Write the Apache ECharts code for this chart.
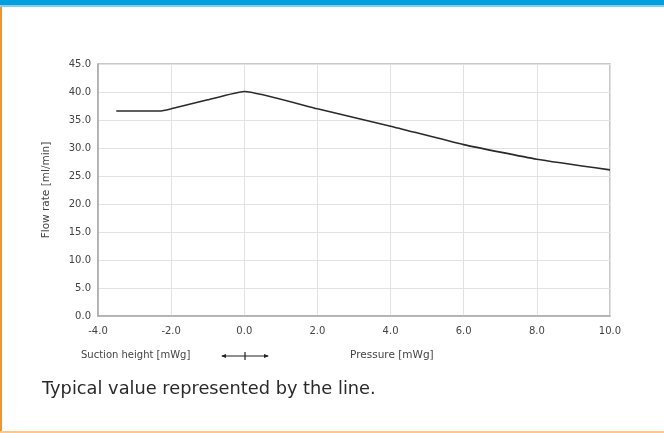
<!DOCTYPE html>
<html>
<head>
<meta charset="utf-8">
<script src="https://cdn.jsdelivr.net/npm/echarts@6/dist/echarts.min.js"></script>
<style>
html,body{margin:0;padding:0;background:#fff;}
#c{width:664px;height:433px;}
</style>
</head>
<body>
<div id="c"></div>
<script>
// Data
var pressure = [-3.5, -2.3, -2.0, -1.0, 0.0, 2.0, 4.0, 6.0, 8.0, 10.0];
var flowRate = [36.6, 36.6, 37.0, 38.6, 40.1, 37.0, 33.9, 30.6, 28.0, 26.1];
var xTicks = [-4, -2, 0, 2, 4, 6, 8, 10];
var yTicks = [0, 5, 10, 15, 20, 25, 30, 35, 40, 45];
var yAxisTitle = 'Flow rate [ml/min]';
var suctionLabel = 'Suction height [mWg]';
var pressureLabel = 'Pressure [mWg]';
var footnote = 'Typical value represented by the line.';

var points = pressure.map(function (p, i) { return [p, flowRate[i]]; });
var font = '"DejaVu Sans", "Liberation Sans", sans-serif';

var chart = echarts.init(document.getElementById('c'), null, {renderer: 'canvas'});
chart.setOption({
  animation: false,
  backgroundColor: '#fff',
  grid: {left: 98, top: 64, right: 54, bottom: 117, show: true,
         borderColor: '#b8b8b8', borderWidth: 1.5, backgroundColor: 'transparent'},
  xAxis: {
    type: 'value', min: xTicks[0], max: xTicks[xTicks.length - 1], interval: 2,
    axisLine: {show: true, onZero: false, lineStyle: {color: '#aaa', width: 1.5}},
    axisTick: {show: false},
    splitLine: {show: true, lineStyle: {color: '#e2e2e2', width: 1}},
    axisLabel: {color: '#444', fontSize: 10, fontFamily: font, margin: 10,
      formatter: function (v) { return v.toFixed(1); }}
  },
  yAxis: {
    type: 'value', min: yTicks[0], max: yTicks[yTicks.length - 1], interval: 5,
    name: yAxisTitle, nameLocation: 'middle', nameGap: 46,
    nameTextStyle: {color: '#444', fontSize: 10.5, fontFamily: font},
    axisLine: {show: true, onZero: false, lineStyle: {color: '#aaa', width: 1.5}},
    axisTick: {show: false},
    splitLine: {show: true, lineStyle: {color: '#e2e2e2', width: 1}},
    axisLabel: {color: '#444', fontSize: 10, fontFamily: font, margin: 7,
      formatter: function (v) { return v.toFixed(1); }}
  },
  series: [{
    type: 'line', data: points, showSymbol: false, smooth: 0.15,
    lineStyle: {color: '#2a2a2a', width: 1.6}
  }],
  graphic: [
    {type: 'rect', left: 0, top: 0, shape: {width: 664, height: 5}, style: {fill: '#009fe0'}, silent: true},
    {type: 'rect', left: 0, top: 5, shape: {width: 664, height: 2}, style: {fill: '#7fcff0'}, silent: true},
    {type: 'rect', left: 0, top: 7, shape: {width: 2, height: 426}, style: {fill: '#f7941d'}, silent: true},
    {type: 'rect', left: 0, top: 431, shape: {width: 664, height: 2}, style: {fill: '#fcc88c'}, silent: true},
    {type: 'text', left: 81, top: 350, style: {text: suctionLabel, fill: '#444', fontSize: 10, fontFamily: font}},
    {type: 'text', left: 350, top: 350, style: {text: pressureLabel, fill: '#444', fontSize: 10.5, fontFamily: font}},
    {type: 'line', shape: {x1: 222, y1: 356, x2: 268, y2: 356}, style: {stroke: '#222', lineWidth: 1.2}},
    {type: 'line', shape: {x1: 245, y1: 352, x2: 245, y2: 360}, style: {stroke: '#222', lineWidth: 1.2}},
    {type: 'polygon', shape: {points: [[221, 356], [226, 354], [226, 358]]}, style: {fill: '#222'}},
    {type: 'polygon', shape: {points: [[269, 356], [264, 354], [264, 358]]}, style: {fill: '#222'}},
    {type: 'text', left: 42, top: 380, style: {text: footnote, fill: '#2a2a2a', fontSize: 17.8, fontFamily: font}}
  ]
});
</script>
</body>
</html>
